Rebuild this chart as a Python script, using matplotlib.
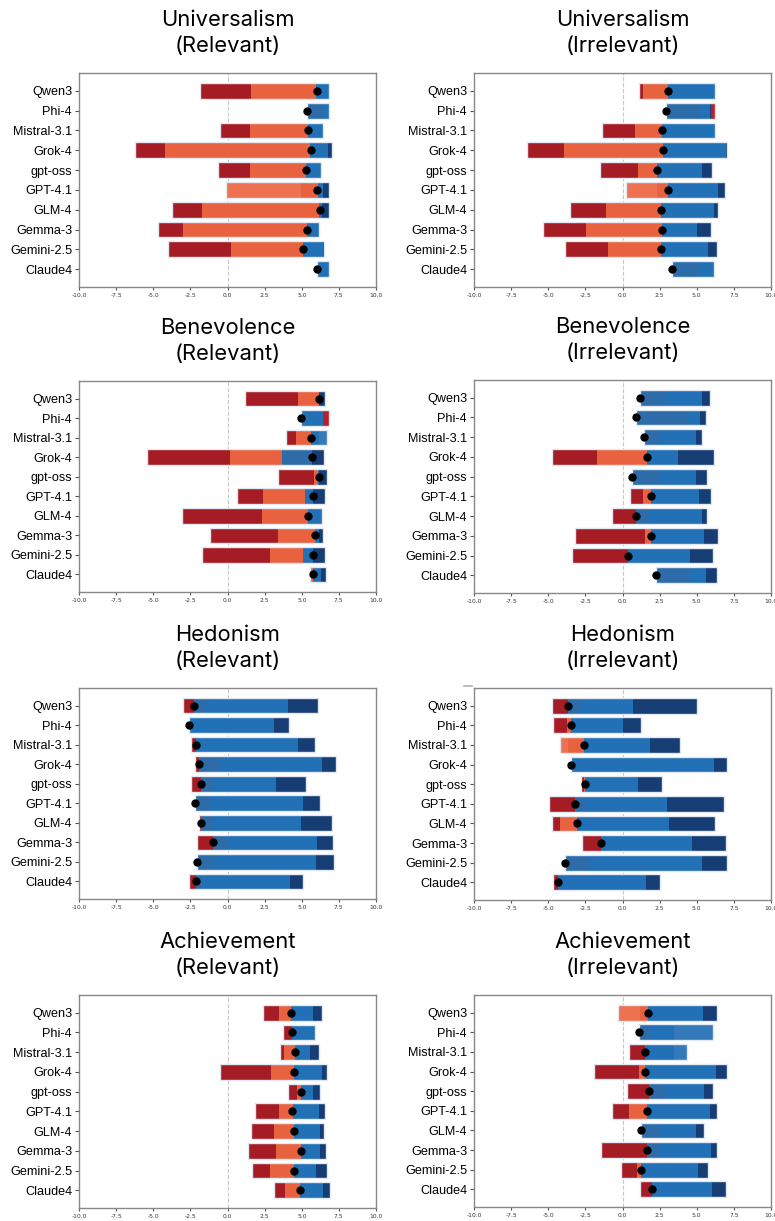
import numpy as np
import matplotlib.pyplot as plt
from matplotlib.lines import Line2D

plt.rcParams['font.family'] = ['Liberation Sans', 'DejaVu Sans']

# models, top to bottom
models = ['Qwen3', 'Phi-4', 'Mistral-3.1', 'Grok-4', 'gpt-oss',
          'GPT-4.1', 'GLM-4', 'Gemma-3', 'Gemini-2.5', 'Claude4']

# segment order (left to right) and colours
seg_names = ['strong_neg', 'light_neg', 'neg', 'light_pos', 'pos', 'strong_pos', 'pale_pos', 'tail']
seg_colors = ['#a51c24', '#ee7152', '#e8623f', '#2d6ca8', '#2270b5', '#163d74', '#3479ba', '#bb1f29']

xticks = [-10.0, -7.5, -5.0, -2.5, 0.0, 2.5, 5.0, 7.5, 10.0]

# ---- Universalism (Relevant)
uni_rel_start = [-1.84, 5.38, -0.52, -6.26, -0.65, -0.13, -3.74, -4.71, -4.04, 6.05]
uni_rel_dot = [6.00, 5.38, 5.42, 5.60, 5.29, 6.05, 6.23, 5.34, 5.11, 6.05]
uni_rel_seg = [
    [3.41, 0, 4.39, 0, 0.90, 0, 0, 0],
    [0, 0, 0, 1.10, 0.34, 0, 0, 0],
    [2.04, 0, 3.88, 0, 1.03, 0, 0, 0],
    [2.07, 0, 9.75, 0, 1.23, 0.25, 0, 0],
    [2.17, 0, 3.77, 0, 1.01, 0, 0, 0],
    [0, 5.09, 1.12, 0, 0.33, 0.41, 0, 0],
    [2.04, 0, 7.89, 0, 0.16, 0.51, 0, 0],
    [1.71, 0, 8.34, 0, 0.83, 0, 0, 0],
    [4.26, 0, 4.89, 0, 1.30, 0.09, 0, 0],
    [0, 0, 0, 0, 0.77, 0, 0, 0],
]

# ---- Universalism (Irrelevant)
uni_irr_start = [1.10, 2.91, -1.35, -6.46, -1.51, 0.25, -3.54, -5.32, -3.85, 3.31]
uni_irr_dot = [3.09, 2.91, 2.68, 2.73, 2.34, 3.09, 2.59, 2.68, 2.59, 3.31]
uni_irr_seg = [
    [0.30, 0, 1.69, 0, 3.15, 0, 0, 0],
    [0, 0, 0, 2.32, 0.65, 0.11, 0, 0.25],
    [2.18, 0, 1.85, 0, 3.56, 0, 0, 0],
    [2.50, 0, 6.69, 0, 4.23, 0.07, 0, 0],
    [2.57, 0, 1.28, 0, 2.98, 0.69, 0, 0],
    [0, 2.09, 0.75, 0, 3.31, 0.49, 0, 0],
    [2.44, 0, 3.69, 0, 3.58, 0.29, 0, 0],
    [2.84, 0, 5.16, 0, 2.32, 0.95, 0, 0],
    [2.90, 0, 3.54, 0, 3.15, 0.61, 0, 0],
    [0, 0, 0, 1.85, 1.03, 0, 0, 0],
]

# ---- Benevolence (Relevant)
ben_rel_start = [1.18, 4.95, 3.95, -5.45, 3.41, 0.64, -3.07, -1.18, -1.73, 5.55]
ben_rel_dot = [6.14, 4.95, 5.64, 5.68, 6.14, 5.73, 5.41, 5.86, 5.77, 5.73]
ben_rel_seg = [
    [3.55, 0, 1.41, 0, 0, 0.43, 0, 0],
    [0, 0, 0, 0, 1.50, 0, 0, 0.37],
    [0.66, 0, 1.03, 0, 0.54, 0, 0.55, 0],
    [5.61, 0, 3.54, 1.98, 0, 0.84, 0, 0],
    [2.39, 0, 0.27, 0, 0.07, 0.54, 0, 0],
    [1.75, 0, 2.84, 0, 0.50, 0.86, 0, 0],
    [5.37, 0, 3.15, 0, 0.91, 0, 0, 0],
    [4.57, 0, 2.47, 0, 0.32, 0.27, 0, 0],
    [4.59, 0, 2.23, 0, 0.68, 0.78, 0, 0],
    [0, 0, 0.18, 0, 0.54, 0.39, 0, 0],
]

# ---- Benevolence (Irrelevant)
ben_irr_start = [1.19, 0.92, 1.42, -4.77, 0.65, 0.52, -0.70, -3.18, -3.40, 2.27]
ben_irr_dot = [1.19, 0.92, 1.46, 1.64, 0.65, 1.94, 0.92, 1.94, 0.34, 2.27]
ben_irr_seg = [
    [0, 0, 0, 1.72, 2.41, 0.60, 0, 0],
    [0, 0, 0, 3.49, 0.84, 0.34, 0, 0],
    [0.04, 0, 0, 1.04, 2.48, 0.40, 0, 0],
    [3.08, 0, 3.33, 0, 2.12, 2.39, 0, 0],
    [0, 0, 0, 1.90, 2.43, 0.74, 0, 0],
    [0.85, 0, 0.57, 0, 3.22, 0.83, 0, 0],
    [1.62, 0, 0, 0.90, 3.50, 0.40, 0, 0],
    [4.67, 0, 0.45, 0, 3.56, 0.94, 0, 0],
    [3.74, 0, 0, 0, 4.23, 1.53, 0, 0],
    [0, 0, 0, 2.26, 1.08, 0.76, 0, 0],
]

# ---- Hedonism (Relevant)
hed_rel_start = [-2.99, -2.61, -2.49, -2.22, -2.49, -2.20, -1.93, -2.04, -2.06, -2.61]
hed_rel_dot = [-2.24, -2.61, -2.15, -1.90, -1.77, -2.20, -1.79, -1.00, -2.06, -2.15]
hed_rel_seg = [
    [0.75, 0, 0, 0.72, 5.58, 2.02, 0, 0],
    [0, 0, 0, 0, 5.76, 1.00, 0, 0],
    [0.34, 0, 0, 0, 6.93, 1.14, 0, 0],
    [0.32, 0, 0, 1.40, 6.85, 0.97, 0, 0],
    [0.72, 0, 0, 0.89, 4.12, 2.04, 0, 0],
    [0, 0, 0, 1.02, 6.28, 1.14, 0, 0],
    [0.14, 0, 0, 0.91, 5.82, 2.11, 0, 0],
    [1.04, 0, 0, 0.95, 6.06, 1.09, 0, 0],
    [0, 0, 0, 1.11, 6.91, 1.18, 0, 0],
    [0.46, 0, 0, 0.45, 5.92, 0.88, 0, 0],
]

# ---- Hedonism (Irrelevant)
hed_irr_start = [-4.77, -4.70, -4.23, -3.50, -2.82, -4.97, -4.77, -2.73, -3.84, -4.66]
hed_irr_dot = [-3.64, -3.50, -2.62, -3.50, -2.51, -3.23, -3.07, -1.42, -3.84, -4.32]
hed_irr_seg = [
    [1.13, 0, 0, 0.86, 3.46, 4.34, 0, 0],
    [0.97, 0, 0.23, 0, 3.55, 1.19, 0, 0],
    [0, 0.59, 1.02, 0, 4.50, 1.96, 0, 0],
    [0, 0, 0, 0, 9.69, 0.88, 0, 0],
    [0.22, 0, 0.09, 0, 3.57, 1.58, 0, 0],
    [1.74, 0, 0, 0.72, 5.54, 3.79, 0, 0],
    [0.57, 0, 1.13, 0, 6.23, 3.05, 0, 0],
    [1.31, 0, 0, 0, 6.10, 2.26, 0, 0],
    [0, 0, 0, 1.67, 7.53, 1.71, 0, 0],
    [0.34, 0, 0, 0, 5.88, 0.97, 0, 0],
]

# ---- Achievement (Relevant)
ach_rel_start = [2.42, 3.77, 3.53, -0.52, 4.09, 1.88, 1.56, 1.38, 1.63, 3.10]
ach_rel_dot = [4.27, 4.34, 4.54, 4.50, 4.95, 4.34, 4.50, 4.97, 4.45, 4.86]
ach_rel_seg = [
    [1.08, 0, 0.77, 0, 1.49, 0.61, 0, 0],
    [0.57, 0, 0, 0, 1.54, 0, 0, 0],
    [0.27, 0, 0.74, 0, 1.00, 0.61, 0, 0],
    [3.44, 0, 1.58, 0, 1.85, 0.36, 0, 0],
    [0.59, 0, 0.27, 0, 0.81, 0.50, 0, 0],
    [1.56, 0, 0.94, 0, 1.79, 0.41, 0, 0],
    [1.54, 0, 1.40, 0, 1.71, 0.32, 0, 0],
    [1.90, 0, 1.69, 0, 1.24, 0.39, 0, 0],
    [1.24, 0, 1.63, 0, 1.47, 0.70, 0, 0],
    [0.74, 0, 1.02, 0, 1.58, 0.43, 0, 0],
]

# ---- Achievement (Irrelevant)
ach_irr_start = [-0.27, 1.13, 0.45, -1.89, 0.32, -0.70, 1.22, -1.47, -0.11, 1.17]
ach_irr_dot = [1.69, 1.13, 1.49, 1.53, 1.80, 1.65, 1.22, 1.62, 1.26, 1.98]
ach_irr_seg = [
    [0, 1.42, 0.54, 0, 3.72, 0.97, 0, 0],
    [0, 0, 0, 0.74, 1.62, 0, 2.60, 0],
    [1.04, 0, 0, 0, 1.96, 0, 0.86, 0],
    [2.97, 0, 0.45, 0, 4.78, 0.70, 0, 0],
    [1.48, 0, 0, 1.04, 2.64, 0.63, 0, 0],
    [1.15, 0, 1.20, 0, 4.23, 0.46, 0, 0],
    [0, 0, 0, 1.33, 2.41, 0.52, 0, 0],
    [3.09, 0, 0, 0.84, 3.47, 0.45, 0, 0],
    [1.12, 0, 0.25, 0, 3.81, 0.68, 0, 0],
    [0.81, 0, 0, 0, 4.06, 0.95, 0, 0],
]


def draw_panel(ax, title, start, seg, dot):
    y = np.arange(len(models))
    seg = np.array(seg, dtype=float)
    left = np.array(start, dtype=float)
    ax.axvline(0, color='#c8c8c8', ls='--', lw=0.8, zorder=0)
    for k, color in enumerate(seg_colors):
        w = seg[:, k]
        m = w > 0
        ax.barh(y[m], w[m], left=left[m], height=0.8, color=color,
                linewidth=0, zorder=2)
        left = left + w
    # light outline around each whole bar
    ax.barh(y, left - np.array(start), left=start, height=0.8, fill=False,
            edgecolor='#e2e8f2', linewidth=1.0, zorder=3)
    ax.plot(dot, y, 'o', color='black', ms=5, zorder=5)

    ax.set_xlim(-10, 10)
    ax.set_ylim(len(models) - 0.1, -0.9)
    ax.set_yticks(y)
    ax.set_yticklabels(models)
    ax.set_xticks(xticks)
    ax.set_xticklabels(['%.1f' % t for t in xticks], family=['DejaVu Sans'])
    ax.tick_params(axis='y', labelsize=9.1, length=3, color='#555555', pad=2)
    ax.tick_params(axis='x', labelsize=4.3, length=2.5, color='#555555',
                   labelcolor='#333333', pad=2)
    for s in ax.spines.values():
        s.set_color('#888888')
        s.set_linewidth(1.0)
    ax.set_title(title, fontsize=15.8, family=['Inter', 'DejaVu Sans'],
                 linespacing=1.4, pad=15)


fig = plt.figure(figsize=(7.75, 12.21), dpi=100)
W, H = 775.0, 1221.0

panels = [
    ('Universalism\n(Relevant)', uni_rel_start, uni_rel_seg, uni_rel_dot, 79, 73, 287),
    ('Universalism\n(Irrelevant)', uni_irr_start, uni_irr_seg, uni_irr_dot, 474, 73, 287),
    ('Benevolence\n(Relevant)', ben_rel_start, ben_rel_seg, ben_rel_dot, 79, 381, 592),
    ('Benevolence\n(Irrelevant)', ben_irr_start, ben_irr_seg, ben_irr_dot, 474, 380, 593),
    ('Hedonism\n(Relevant)', hed_rel_start, hed_rel_seg, hed_rel_dot, 79, 688, 899),
    ('Hedonism\n(Irrelevant)', hed_irr_start, hed_irr_seg, hed_irr_dot, 474, 688, 900),
    ('Achievement\n(Relevant)', ach_rel_start, ach_rel_seg, ach_rel_dot, 79, 995, 1208),
    ('Achievement\n(Irrelevant)', ach_irr_start, ach_irr_seg, ach_irr_dot, 474, 995, 1207),
]

for title, start, seg, dot, x0, top, bottom in panels:
    ax = fig.add_axes([x0 / W, 1 - bottom / H, 297 / W, (bottom - top) / H])
    draw_panel(ax, title, start, seg, dot)

# small grey dash left above the Hedonism (Irrelevant) panel
fig.add_artist(Line2D([464 / W, 472 / W], [1 - 686 / H, 1 - 686 / H],
                      color='#b0b0b0', lw=1.2))

fig.savefig('out.png', dpi=100)
